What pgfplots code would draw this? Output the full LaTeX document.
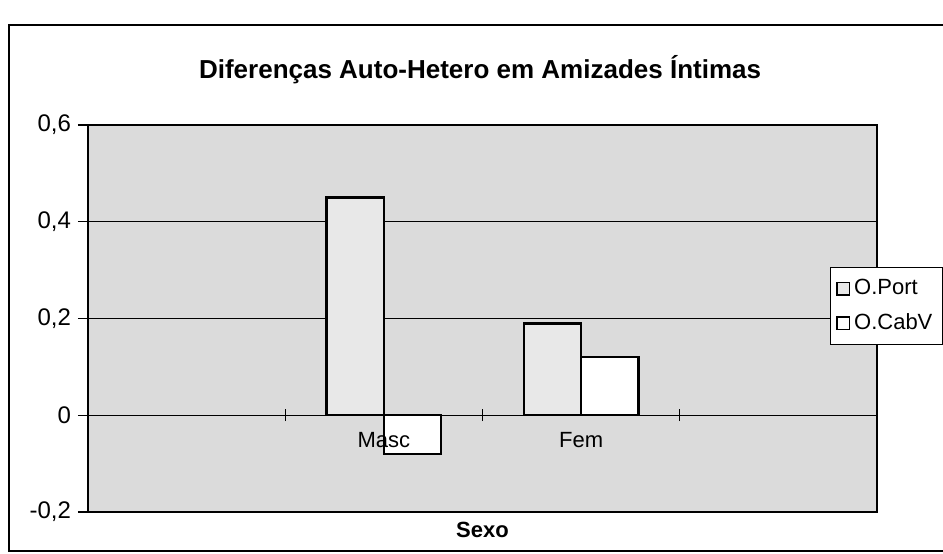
\documentclass[border=0pt]{standalone}
\usepackage{pgfplots}
\pgfplotsset{compat=1.18}
\usepackage{fontspec}
\setmainfont{Liberation Sans}

\begin{document}
\begin{tikzpicture}
\begin{axis}[
  scale only axis, width=394.5pt, height=193.5pt,
  ybar=0pt, bar width=0.29,
  xmin=0.5, xmax=4.5, ymin=-0.2, ymax=0.6,
  xtick=\empty,
  ytick={-0.2,0,0.2,0.4,0.6},
  ymajorgrids, grid style={black, line width=0.6pt},
  yticklabel style={font=\fontsize{12}{14}\selectfont,
    /pgf/number format/.cd, fixed, use comma, precision=1, assume math mode=true},
  ytick pos=left, tick align=outside,
  major tick length=5pt, tick style={black, line width=0.6pt},
  axis background/.style={fill=gray!28},
  axis line style={black, line width=0.9pt},
  clip=false,
  legend style={at={(0.940,0.633)}, anchor=north west, draw=black, fill=white,
    font=\fontsize{11}{13}\selectfont, inner xsep=3pt, inner ysep=4pt, row sep=4pt},
  legend cell align=left,
  legend image code/.code={\draw[#1, line width=0.8pt] (0cm,-0.11cm) rectangle (0.22cm,0.11cm);},
]
\addplot[fill=gray!18, draw=black, line width=1.2pt] coordinates {(2,0.45) (3,0.19)};
\addplot[fill=white, draw=black, line width=1.2pt] coordinates {(2,-0.08) (3,0.12)};
\legend{O.Port, O.CabV}

% category ticks across the zero line
\draw[line width=0.6pt] ([yshift=-3pt]axis cs:1.5,0) -- ([yshift=3pt]axis cs:1.5,0);
\draw[line width=0.6pt] ([yshift=-3pt]axis cs:2.5,0) -- ([yshift=3pt]axis cs:2.5,0);
\draw[line width=0.6pt] ([yshift=-3pt]axis cs:3.5,0) -- ([yshift=3pt]axis cs:3.5,0);
\node[anchor=north, font=\fontsize{11}{13}\selectfont, yshift=-5pt] at (axis cs:2,0) {Masc};
\node[anchor=north, font=\fontsize{11}{13}\selectfont, yshift=-5pt] at (axis cs:3,0) {Fem};

\node[font=\bfseries\fontsize{13}{15}\selectfont] at (rel axis cs:0.497,1.142) {Diferenças Auto-Hetero em Amizades Íntimas};
\node[font=\bfseries\fontsize{11}{13}\selectfont] at (rel axis cs:0.5,-0.047) {Sexo};

\coordinate (fbl) at (rel axis cs:-0.100,-0.101);
\coordinate (ftl) at (rel axis cs:-0.100,1.258);
\coordinate (ftr) at (rel axis cs:1.09,1.258);
\coordinate (fbr) at (rel axis cs:1.09,-0.101);
\coordinate (bbl) at (rel axis cs:-0.1115,-0.106);
\coordinate (btr) at (rel axis cs:1.0837,1.323);
\end{axis}
\draw[line width=1pt] (fbr) -- (fbl) -- (ftl) -- (ftr);
\pgfresetboundingbox
\path[use as bounding box] (bbl) rectangle (btr);
\end{tikzpicture}
\end{document}
